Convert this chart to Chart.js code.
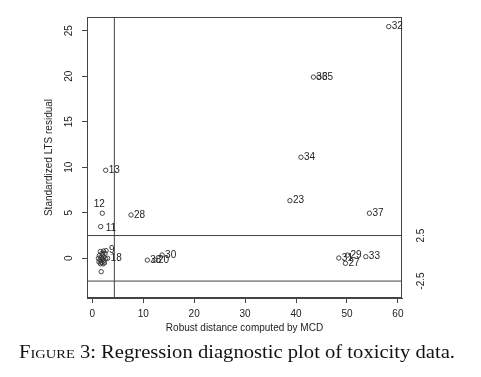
<!DOCTYPE html>
<html><head><meta charset="utf-8">
<script src="https://cdn.jsdelivr.net/npm/chart.js@4"></script>
<style>
html,body{margin:0;padding:0;background:#fff;}
#wrap{position:absolute;left:0;top:0;width:481px;height:377px;}
#cap{position:absolute;left:19px;top:342px;font-family:"Liberation Serif","Times New Roman",serif;font-size:18.5px;line-height:20px;color:#111;white-space:nowrap;transform-origin:0 0;}
.sc{font-variant:small-caps;}
</style></head><body>
<div id="wrap"><canvas id="c" width="481" height="377"></canvas></div>
<div id="cap"><span class="sc">Figure</span> 3: Regression diagnostic plot of toxicity data.</div>
<script>
// observation labels (blank = not labelled in the plot)
const obsLabels = ['','','','','','','','','9','','11','12','13','','','','','18','','20','','','23','','','','27','28','29','30','31','32','33','34','35','36','37','38'];
// robust distance (MCD)
const robustDist = [1.6,2.2,1.4,2.0,2.5,1.2,1.7,2.3,2.7,1.5,1.65,1.96,2.63,2.0,2.6,1.3,1.8,3.0,2.2,12.3,1.6,2.1,38.8,2.4,1.9,1.75,49.7,7.6,50.1,13.7,48.4,58.2,53.7,40.96,44.5,43.4,54.4,10.8];
// standardized LTS residual
const ltsResid = [0.75,0.8,0.3,0.4,0.55,0.0,0.1,0.15,0.84,-0.2,3.48,4.95,9.67,-0.1,-0.05,-0.4,-0.45,0.0,-0.3,-0.2,-0.6,-0.6,6.33,-0.5,0.55,-1.47,-0.55,4.76,0.36,0.36,0.03,25.45,0.18,11.1,19.9,19.9,4.95,-0.2];
const xTicks = [0,10,20,30,40,50,60];
const yTicks = [0,5,10,15,20,25];
const residCutoffs = [2.5,-2.5];
const distCutoff = 4.33;

const X_MIN = -1.04, X_MAX = 60.8, Y_MIN = -4.36, Y_MAX = 26.5;
const LINE = '#444', TEXT = '#222';
Chart.defaults.font.family = '"Liberation Sans", Arial, sans-serif';
Chart.defaults.color = TEXT;

const points = robustDist.map((x,i)=>({x, y: ltsResid[i]}));
const lineDs = (data)=>({data, showLine:true, pointRadius:0, borderColor:LINE, borderWidth:1, fill:false});

const labelPlugin = {
  id:'extras',
  afterDatasetsDraw(chart){
    const {ctx, chartArea:a, scales:{x, y}} = chart;
    ctx.save();
    ctx.strokeStyle = LINE; ctx.lineWidth = 1;
    ctx.strokeRect(a.left+0.5, a.top+0.5, a.right-a.left-1, a.bottom-a.top-1);
    ctx.font = '10px "Liberation Sans", Arial, sans-serif';
    ctx.fillStyle = TEXT;
    const meta = chart.getDatasetMeta(0);
    meta.data.forEach((p,i)=>{
      const t = obsLabels[i];
      if (!t) return;
      if (t === '12') { ctx.textAlign='center'; ctx.textBaseline='middle'; ctx.fillText(t, p.x-3, p.y-9); }
      else if (t === '11') { ctx.textAlign='left'; ctx.textBaseline='middle'; ctx.fillText(t, p.x+5, p.y+2); }
      else { ctx.textAlign='left'; ctx.textBaseline='middle'; ctx.fillText(t, p.x+3, p.y); }
    });
    ctx.textAlign='center'; ctx.textBaseline='middle';
    yTicks.forEach(v=>{
      const py = y.getPixelForValue(v);
      ctx.save(); ctx.translate(69, py); ctx.rotate(-Math.PI/2); ctx.fillText(String(v),0,0); ctx.restore();
    });
    residCutoffs.forEach(v=>{
      const py = y.getPixelForValue(v);
      ctx.save(); ctx.translate(421, py); ctx.rotate(-Math.PI/2); ctx.fillText(String(v),0,0); ctx.restore();
    });
    ctx.restore();
  }
};

new Chart(document.getElementById('c'), {
  type:'scatter',
  data:{ datasets:[
    { data: points, pointStyle:'circle', pointRadius:2.2, pointHoverRadius:2.2, borderColor:'#333', backgroundColor:'rgba(0,0,0,0)', borderWidth:0.9 },
    lineDs([{x:X_MIN,y:residCutoffs[0]},{x:X_MAX,y:residCutoffs[0]}]),
    lineDs([{x:X_MIN,y:residCutoffs[1]},{x:X_MAX,y:residCutoffs[1]}]),
    lineDs([{x:distCutoff,y:Y_MIN},{x:distCutoff,y:Y_MAX}])
  ]},
  options:{
    responsive:false, animation:false, devicePixelRatio:1,
    layout:{ padding:{ left:0, right:79, top:17, bottom:0 } },
    plugins:{ legend:{display:false}, tooltip:{enabled:false} },
    scales:{
      x:{ type:'linear', min:X_MIN, max:X_MAX,
        afterBuildTicks: s=>{ s.ticks = xTicks.map(v=>({value:v})); },
        afterFit: s=>{ s.height = 79; },
        grid:{ drawOnChartArea:false, drawTicks:true, tickLength:5, color:LINE },
        border:{ display:true, color:LINE },
        ticks:{ font:{size:10}, color:TEXT, padding:5, maxRotation:0 },
        title:{ display:true, text:'Robust distance computed by MCD', font:{size:10}, color:TEXT, padding:{top:0,bottom:43} }
      },
      y:{ type:'linear', min:Y_MIN, max:Y_MAX,
        afterBuildTicks: s=>{ s.ticks = yTicks.map(v=>({value:v})); },
        afterFit: s=>{ s.width = 87; },
        grid:{ drawOnChartArea:false, drawTicks:true, tickLength:5, color:LINE },
        border:{ display:true, color:LINE },
        ticks:{ display:false },
        title:{ display:true, text:'Standardized LTS residual', font:{size:10}, color:TEXT, padding:{top:43,bottom:0} }
      }
    }
  },
  plugins:[labelPlugin]
});
// stretch caption to the reference's width (Computer Modern is wider than Times)
const cap = document.getElementById('cap');
const w = cap.getBoundingClientRect().width;
cap.style.transform = 'scaleX(' + (436 / w) + ')';
</script>
</body></html>
